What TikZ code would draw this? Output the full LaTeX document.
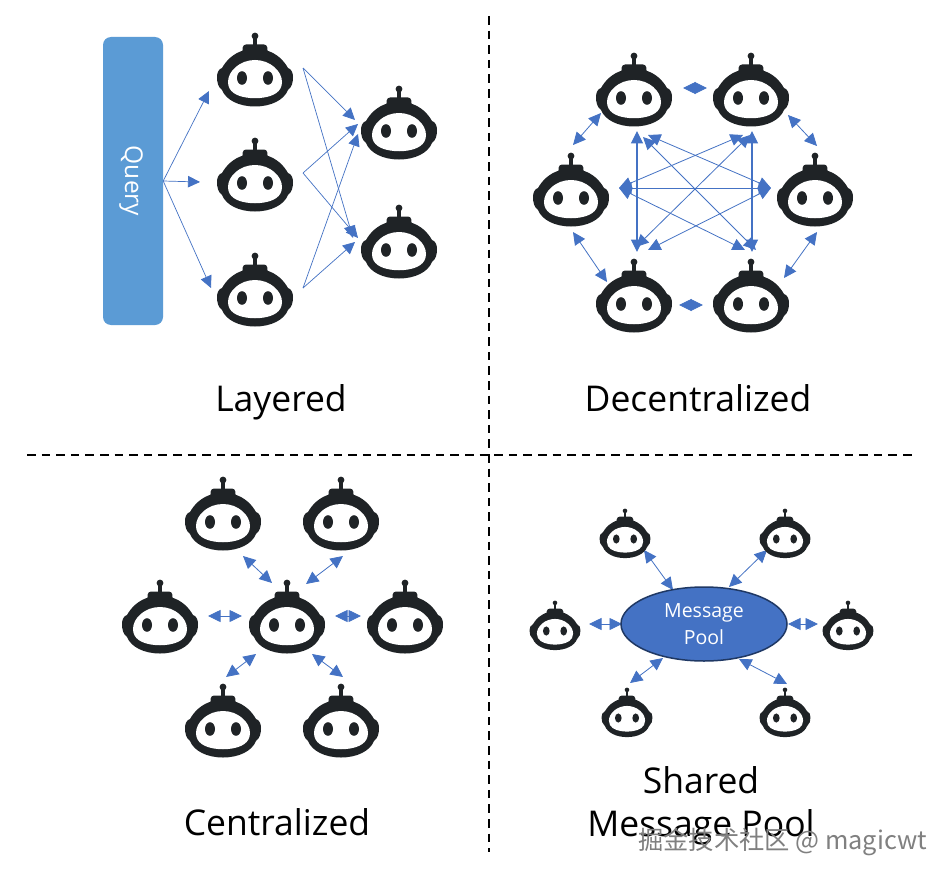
\documentclass[tikz,border=0pt]{standalone}
\usepackage{fontspec}
\setmainfont{Open Sans}
\newfontfamily\cjkwm{Noto Sans CJK SC}
\usetikzlibrary{arrows.meta,backgrounds,shapes.geometric}
\definecolor{robotink}{HTML}{1F2326}
\definecolor{linkblue}{HTML}{4472C4}
\definecolor{queryblue}{HTML}{5B9BD5}
\definecolor{pooledge}{HTML}{1F3864}
\tikzset{
  x=1pt,y=-1pt,
  twoway/.style={draw=linkblue,line width=0.8pt,{Triangle[length=12.5pt,width=12pt,fill=linkblue]}-{Triangle[length=12.5pt,width=12pt,fill=linkblue]}},
  oneway/.style={draw=linkblue,line width=0.7pt,-{Triangle[length=12pt,width=11.5pt,fill=linkblue]}},
  robotbox/.style={inner sep=0pt,minimum width=#1*76pt,minimum height=#1*72pt},
  title/.style={font=\fontsize{35.5}{43}\selectfont,align=center,text=black,anchor=base},
  divider/.style={draw=black,line width=2pt,dash pattern=on 8.6pt off 6pt},
}
% \botfig{name}{x}{y}{scale}: (x,y) is the point midway between the eyes
\newcommand{\botfig}[4]{%
  \node[robotbox=#4] (#1) at (#2,#3) {};
  \begin{scope}[shift={(#2,#3)},x=#4*1pt,y=-#4*1pt]
    \fill[robotink] (0,-42) circle (3.4);
    \fill[robotink] (-1.8,-42) rectangle (1.8,-30);
    \fill[robotink,rounded corners=3] (-13,-22) -- (-12,-33.5) -- (12,-33.5) -- (13,-22) -- cycle;
    \fill[robotink] (-33,-10) .. controls (-29,-17) and (-22,-25) .. (-10,-28)
       -- (10,-28)
       .. controls (22,-25) and (29,-17) .. (33,-10)
       .. controls (36.5,-9) and (38,-5) .. (38,-1)
       .. controls (38,4) and (37,9) .. (33,12)
       .. controls (29,22) and (16,28.5) .. (0,28.5)
       .. controls (-16,28.5) and (-29,22) .. (-33,12)
       .. controls (-37,9) and (-38,4) .. (-38,-1)
       .. controls (-38,-5) and (-36.5,-9) .. (-33,-10) -- cycle;
    \fill[white] (0,-18) .. controls (-15,-18) and (-27,-7) .. (-27,4)
       .. controls (-27,14) and (-18,18) .. (-9,19.5)
       .. controls (-3,20.5) and (3,20.5) .. (9,19.5)
       .. controls (18,18) and (27,14) .. (27,4)
       .. controls (27,-7) and (15,-18) .. (0,-18) -- cycle;
    \fill[robotink] (-13,0) ellipse (5 and 6.8);
    \fill[robotink] (13,0) ellipse (5 and 6.8);
  \end{scope}
}
\begin{document}
\begin{tikzpicture}
\useasboundingbox (0,0) rectangle (950,880);
\begin{scope}[on background layer]
\fill[white] (0,0) rectangle (950,880);
\end{scope}

% dividers
\coordinate (vt) at (489,16);
\coordinate (vb) at (489,852);
\coordinate (hl) at (27,454.5);
\coordinate (hr) at (915,454.5);
\draw[divider] (vt) -- (vb);
\draw[divider] (hl) -- (hr);

% Layered
\node[draw=none,fill=queryblue,rounded corners=8pt,minimum width=60pt,minimum height=288pt,inner sep=0pt] (query) at (133,181) {};
\node[rotate=-90,text=white,font=\fontsize{24.5}{28}\selectfont] (querytext) at (131,181) {Query};
\botfig{la}{255}{78}{1}
\botfig{lb}{255}{183}{1}
\botfig{lc}{255}{298}{1}
\botfig{ld}{399}{131}{1}
\botfig{le}{399}{250}{1}
\draw[oneway] (query.east) -- ([shift={(-46,13)}]la.center);
\draw[oneway] (query.east) -- ([shift={(-55,-1)}]lb.center);
\draw[oneway] (query.east) -- ([shift={(-44,-10)}]lc.center);
\draw[oneway] ([shift={(48,-10)}]la.center) -- ([shift={(-44,-11)}]ld.center);
\draw[oneway] ([shift={(48,-10)}]la.center) -- ([shift={(-46,-12)}]le.center);
\draw[oneway] ([shift={(48,-10)}]lb.center) -- ([shift={(-41,-7)}]ld.center);
\draw[oneway] ([shift={(48,-10)}]lb.center) -- ([shift={(-41,-12)}]le.center);
\draw[oneway] ([shift={(48,-10)}]lc.center) -- ([shift={(-41,3)}]ld.center);
\draw[oneway] ([shift={(48,-10)}]lc.center) -- ([shift={(-44,-8)}]le.center);

% Decentralized
\botfig{da}{634}{98}{1}
\botfig{db}{751}{98}{1}
\botfig{dc}{571}{198}{1}
\botfig{dd}{815}{198}{1}
\botfig{de}{634}{304}{1}
\botfig{df}{751}{304}{1}
\draw[twoway] ([shift={(49,-10)}]da.center) -- ([shift={(-44,-10)}]db.center);
\draw[twoway] ([shift={(45,1)}]de.center) -- ([shift={(-48,1)}]df.center);
\draw[twoway] ([shift={(-33,15)}]da.center) -- ([shift={(2,-53)}]dc.center);
\draw[twoway] ([shift={(37,17)}]db.center) -- ([shift={(2,-52)}]dd.center);
\draw[twoway] ([shift={(2,34)}]dc.center) -- ([shift={(-27,-22)}]de.center);
\draw[twoway] ([shift={(2,34)}]dd.center) -- ([shift={(33,-26)}]df.center);
\draw[twoway,line width=1.1pt] ([shift={(3,33)}]da.center) -- ([shift={(3,-52)}]de.center);
\draw[twoway,line width=1.1pt] ([shift={(1,33)}]db.center) -- ([shift={(1,-52)}]df.center);
\draw[twoway] ([shift={(48,-10)}]dc.center) -- ([shift={(-44,-10)}]dd.center);
\draw[twoway] ([shift={(14,37)}]da.center) -- ([shift={(-44,-10)}]dd.center);
\draw[twoway] ([shift={(48,-10)}]dc.center) -- ([shift={(-8,37)}]db.center);
\draw[twoway] ([shift={(48,-10)}]dc.center) -- ([shift={(-6,-54)}]df.center);
\draw[twoway] ([shift={(14,-54)}]de.center) -- ([shift={(-44,-10)}]dd.center);
\draw[twoway] ([shift={(9,39)}]da.center) -- ([shift={(5,-54)}]df.center);
\draw[twoway] ([shift={(2,-57)}]de.center) -- ([shift={(-1,37)}]db.center);

% Centralized
\botfig{ca}{223}{522}{1}
\botfig{cb}{341}{522}{1}
\botfig{cc}{160}{625}{1}
\botfig{cd}{287}{625}{1}
\botfig{ce}{405}{625}{1}
\botfig{cf}{223}{729}{1}
\botfig{cg}{341}{729}{1}
\draw[twoway] ([shift={(20,34)}]ca.center) -- ([shift={(-15,-42)}]cd.center);
\draw[twoway] ([shift={(2,34)}]cb.center) -- ([shift={(19,-41)}]cd.center);
\draw[twoway] ([shift={(48,-9)}]cc.center) -- ([shift={(-45,-9)}]cd.center);
\draw[twoway] ([shift={(48,-9)}]cd.center) -- ([shift={(-44,-9)}]ce.center);
\draw[twoway] ([shift={(-31,29)}]cd.center) -- ([shift={(3,-52)}]cf.center);
\draw[twoway] ([shift={(25,29)}]cd.center) -- ([shift={(2,-52)}]cg.center);

% Shared Message Pool
\node[ellipse,draw=pooledge,line width=1.5pt,fill=linkblue,minimum width=166pt,minimum height=74pt,inner sep=0pt,text=white,align=center,font=\fontsize{19.5}{27}\selectfont] (pool) at (704,624) {Message\\Pool};
\botfig{sa}{625}{539}{0.67}
\botfig{sb}{785}{539}{0.67}
\botfig{sc}{555}{631}{0.67}
\botfig{sd}{848}{631}{0.67}
\botfig{se}{627}{718}{0.67}
\botfig{sf}{785}{718}{0.67}
\begin{scope}[on background layer]
\draw[twoway] ([shift={(19,11)}]sa.center) -- ([shift={(-31,-34)}]pool.center);
\draw[twoway] ([shift={(-18,11)}]sb.center) -- ([shift={(25,-37)}]pool.center);
\draw[twoway] ([shift={(34,-7)}]sc.center) -- ([shift={(-82,0)}]pool.center);
\draw[twoway] ([shift={(-60,-7)}]sd.center) -- ([shift={(114,0)}]pool.center);
\draw[twoway] ([shift={(3,-35)}]se.center) -- ([shift={(-41,34)}]pool.center);
\draw[twoway] ([shift={(2,-34)}]sf.center) -- ([shift={(35,35)}]pool.center);
\end{scope}

% titles
\node[title] (tlayered) at (281,411) {Layered};
\node[title] (tdecent) at (698,411) {Decentralized};
\node[title] (tcentral) at (277,835) {Centralized};
\node[title] (tshared) at (701,836) {Shared\\Message Pool};

% watermark
\node[anchor=base west,inner sep=0pt,text=black!50,font=\cjkwm\fontsize{25.3}{28}\selectfont] (mark) at (638,849) {掘金技术社区 @ magicwt};
\end{tikzpicture}
\end{document}
